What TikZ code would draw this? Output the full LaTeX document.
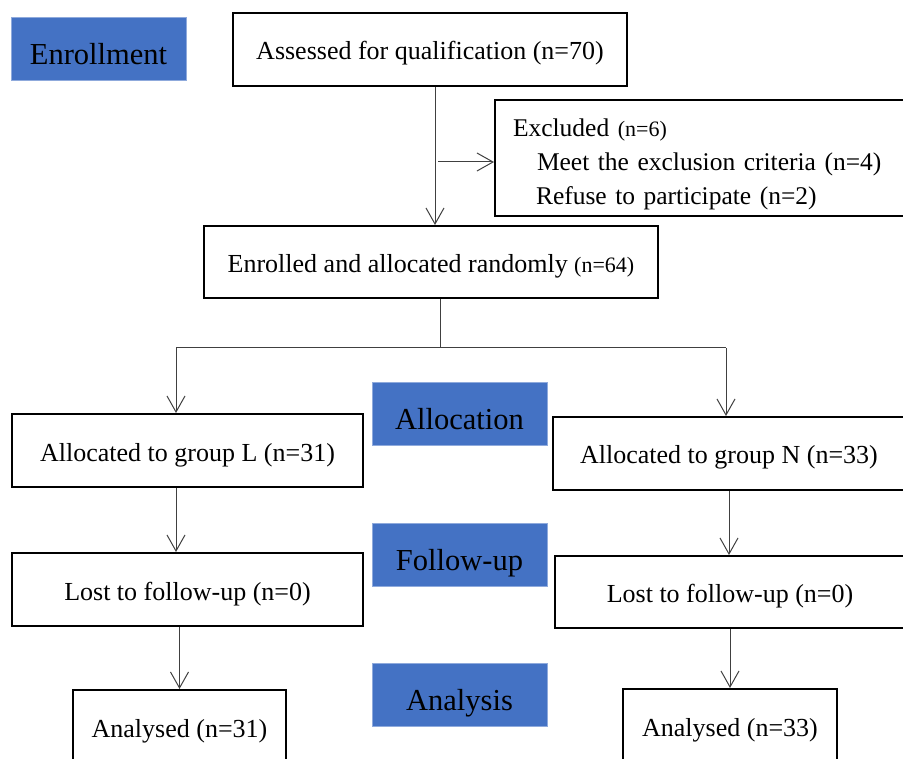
\documentclass[tikz,border=0pt]{standalone}
\usepackage{fontspec}
\setmainfont{Liberation Serif}
\usetikzlibrary{arrows.meta}

\definecolor{stageblue}{HTML}{4472C4}
\definecolor{stageedge}{HTML}{8FAADC}
\definecolor{linkgray}{HTML}{404040}

\newcommand{\smalln}[1]{{\fontsize{22}{26}\selectfont #1}}

\tikzset{
  box/.style={draw, line width=2pt, inner sep=0pt, font=\fontsize{26}{31}\selectfont,
    text height=24pt, text depth=3pt},
  stage/.style={fill=stageblue, draw=stageedge, line width=1pt,
    minimum width=175pt, minimum height=63pt, inner sep=0pt,
    font=\fontsize{30.5}{36}\selectfont, text height=34pt, text depth=3pt},
  link/.style={line width=1pt, draw=linkgray},
  arr/.style={link, -{Straight Barb[length=16pt,width=18pt,line width=1pt]}}
}

\begin{document}
\begin{tikzpicture}[x=1pt,y=-1pt]

\useasboundingbox (0,0) rectangle (903,759);

% Phases
\node[stage] (phaseEnrol) at (98.5,49.5) {Enrollment};
\node[stage] (phaseAlloc) at (459.5,414.5) {Allocation};
\node[stage] (phaseFollow) at (459.5,554.5) {Follow-up};
\node[stage] (phaseAnalysis) at (459.5,694.5) {Analysis};

% Enrollment
\node[box, minimum width=394pt, minimum height=73pt]
(assess) at (430,49.5)
{Assessed for qualification (n=70)};

\node[draw, line width=2pt, text width=390pt, inner xsep=18pt, inner ysep=0pt,
  minimum height=116pt, align=left, font=\fontsize{25.5}{34}\selectfont]
(excl) at (708,158)
{\rule{0pt}{30pt}Excluded \smalln{(n=6)}\\
\hspace*{24pt}Meet the exclusion criteria (n=4)\\
\hspace*{23pt}Refuse to participate (n=2)};

\node[box, minimum width=454pt, minimum height=72pt]
(enrol) at (431,262)
{Enrolled and allocated randomly \smalln{(n=64)}};

% Groups
\node[box, minimum width=351pt, minimum height=73pt]
(grpL) at (187.5,450.5)
{Allocated to group L (n=31)};

\node[box, minimum width=352pt, minimum height=73pt]
(grpN) at (729,453.5)
{Allocated to group N (n=33)};

\node[box, minimum width=351pt, minimum height=73pt]
(lostL) at (187.5,589.5)
{Lost to follow-up (n=0)};

\node[box, minimum width=350pt, minimum height=72pt]
(lostN) at (730,592)
{Lost to follow-up (n=0)};

\node[box, minimum width=213pt, minimum height=74pt]
(anaL) at (179.5,727)
{Analysed (n=31)};

\node[box, minimum width=214pt, minimum height=74pt]
(anaN) at (730,726)
{Analysed (n=33)};

% Connectors
\coordinate (trunk) at ([xshift=5pt]assess.south);
\coordinate (exclIn) at ([yshift=-4pt]excl.west);

\draw[arr]
(trunk)
--
(trunk |- enrol.north);

\draw[arr]
([xshift=3pt]trunk |- exclIn)
--
(exclIn);

\coordinate (fork) at (440,348);
\coordinate (forkL) at (176,348);
\coordinate (forkR) at (726,348);

\draw[link]
(fork |- enrol.south)
--
(fork);

\draw[link]
(forkL)
--
(forkR);

\draw[arr] (forkL) -- (forkL |- grpL.north);
\draw[arr] (forkR) -- (forkR |- grpN.north);

\draw[arr] (grpL.south -| forkL) -- (lostL.north -| forkL);
\draw[arr] (lostL.south -| anaL.north) -- (anaL.north);

\draw[arr] (grpN.south) -- (grpN.south |- lostN.north);
\draw[arr] (lostN.south) -- (lostN.south |- anaN.north);

\end{tikzpicture}
\end{document}
